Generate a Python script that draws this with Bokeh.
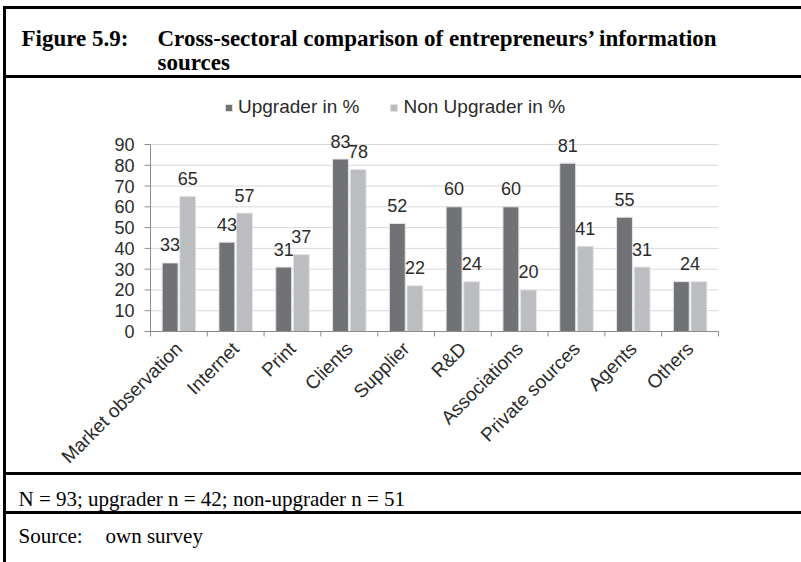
import math
from bokeh.plotting import figure
from bokeh.models import Range1d, Legend, LegendItem, ColumnDataSource
from bokeh.embed import file_html
from bokeh.resources import INLINE
from bokeh.core.properties import value
from bokeh.transform import dodge

# ---------------- data ----------------
categories = ["Market observation", "Internet", "Print", "Clients", "Supplier", "R&D",
              "Associations", "Private sources", "Agents", "Others"]
upgrader = [33, 43, 31, 83, 52, 60, 60, 81, 55, 24]
non_upgrader = [65, 57, 37, 78, 22, 24, 20, 41, 31, 24]
series_names = ["Upgrader in %", "Non Upgrader in %"]
y_ticks = [0, 10, 20, 30, 40, 50, 60, 70, 80, 90]
fig_label = "Figure 5.9:"
title_lines = ["Cross-sectoral comparison of entrepreneurs\u2019 information", "sources"]
note_text = "N = 93; upgrader n = 42; non-upgrader n = 51"
source_label = "Source:"
source_text = "own survey"

# ---------------- style / layout ----------------
DARK = "#717275"
LIGHT = "#bcbdc0"
AXIS = "#8c8c8c"
GRID = "#d9d9d9"
TXT = "#2b2b2b"
SANS = "Liberation Sans"
SERIF = "Liberation Serif"
FS = "18px"

W, H = 801, 562
PLOT_L, PLOT_R = 150, 718       # plot area, page px
BASE_Y, TOP_Y = 331, 144        # page px of value 0 and of the top tick
n_cat = len(categories)
top_tick = y_ticks[-1]

slot_px = (PLOT_R - PLOT_L) / n_cat
val_px = (BASE_Y - TOP_Y) / top_tick
cat_start = -PLOT_L / slot_px
val_start = -(H - BASE_Y) / val_px

p = figure(width=W, height=H, x_range=Range1d(0, W), y_range=Range1d(H, 0),
           x_axis_location=None, y_axis_location=None, min_border=0,
           toolbar_location=None, output_backend="svg", outline_line_color=None,
           background_fill_color="white", border_fill_color="white")
p.grid.visible = False
p.extra_x_ranges = {"cat": Range1d(cat_start, cat_start + W / slot_px)}
p.extra_y_ranges = {"val": Range1d(val_start, val_start + H / val_px)}

slot_centers = [i + 0.5 for i in range(n_cat)]
src = ColumnDataSource(dict(
    x=slot_centers, up=upgrader, non=non_upgrader,
    up_lbl=[str(u) if u != n else "" for u, n in zip(upgrader, non_upgrader)],
    non_lbl=[str(n) if u != n else "" for u, n in zip(upgrader, non_upgrader)],
    same_lbl=[str(u) if u == n else "" for u, n in zip(upgrader, non_upgrader)],
))
CV = dict(x_range_name="cat", y_range_name="val")

# gridlines (value axis)
grid_vals = y_ticks[1:]
p.segment(x0=[0] * len(grid_vals), x1=[n_cat] * len(grid_vals), y0=grid_vals,
          y1=grid_vals, line_color=GRID, line_width=1, **CV)

# bars
OFF = 0.155
BW = 0.28
r_up = p.vbar(x=dodge("x", -OFF), top="up", bottom=0, width=BW, source=src,
              fill_color=DARK, line_color="#e4e4e4", line_width=1, **CV)
r_non = p.vbar(x=dodge("x", OFF), top="non", bottom=0, width=BW, source=src,
               fill_color=LIGHT, line_color="#e4e4e4", line_width=1, **CV)

# data labels
lbl_kw = dict(text_font=value(SANS), text_font_size=FS, text_color=TXT,
              text_align="center", text_baseline="middle", y_offset=-18, source=src, **CV)
p.text(x=dodge("x", -OFF), y="up", text="up_lbl", **lbl_kw)
p.text(x=dodge("x", OFF), y="non", text="non_lbl", **lbl_kw)
p.text(x="x", y="up", text="same_lbl", **lbl_kw)

# value axis: line, ticks, labels
p.segment(x0=[0], x1=[0], y0=[0], y1=[top_tick], line_color=AXIS, line_width=1, **CV)
p.segment(x0=[PLOT_L - 6] * len(y_ticks), x1=[PLOT_L] * len(y_ticks), y0=y_ticks,
          y1=y_ticks, line_color=AXIS, line_width=1, y_range_name="val")
p.text(x=[PLOT_L - 16] * len(y_ticks), y=y_ticks, text=[str(t) for t in y_ticks],
       text_font=value(SANS), text_font_size=FS, text_color=TXT, text_align="right",
       text_baseline="middle", y_range_name="val")

# category axis: line, boundary ticks, rotated labels
p.segment(x0=[0], x1=[n_cat], y0=[0], y1=[0], line_color=AXIS, line_width=1, **CV)
bounds = list(range(n_cat + 1))
p.segment(x0=bounds, x1=bounds, y0=[BASE_Y] * len(bounds), y1=[BASE_Y + 5] * len(bounds),
          line_color=AXIS, line_width=1, x_range_name="cat")
p.text(x=slot_centers, y=[BASE_Y + 14] * n_cat, text=categories, angle=math.pi / 4,
       text_font=value(SANS), text_font_size="19px", text_color=TXT, text_align="right",
       text_baseline="middle", x_range_name="cat")

# legend
legend = Legend(items=[LegendItem(label=series_names[0], renderers=[r_up]),
                       LegendItem(label=series_names[1], renderers=[r_non])],
                orientation="horizontal", location=(224, H - 108 - 10),
                glyph_width=9, glyph_height=9, label_standoff=5, spacing=30, padding=0,
                margin=0, label_height=20, label_text_font=SANS, label_text_font_size="19px",
                label_text_color=TXT, background_fill_alpha=0, border_line_color=None)
p.add_layout(legend)

# table rules of the figure box
rules_y = [6, 75, 472, 511]
p.quad(left=[3] * len(rules_y), right=[W] * len(rules_y), top=rules_y,
       bottom=[y + 2 for y in rules_y], color="black")
p.quad(left=[3], right=[5], top=[6], bottom=[H], color="black")

# title and notes
p.text(x=[21], y=[38], text=[fig_label], text_font=value(SERIF), text_font_style="bold",
       text_font_size="23px", text_color="black", text_baseline="alphabetic")
p.text(x=[157, 157], y=[38, 62], text=title_lines, text_font=value(SERIF),
       text_font_style="bold", text_font_size="23px", text_color="black",
       text_baseline="alphabetic")
p.text(x=[18], y=[498], text=[note_text], text_font=value(SERIF), text_font_size="21px",
       text_color="black", text_baseline="alphabetic")
p.text(x=[18, 105], y=[535, 535], text=[source_label, source_text],
       text_font=value(SERIF), text_font_size="21px", text_color="black",
       text_baseline="alphabetic")

open("out.html", "w").write(file_html(p, INLINE))
